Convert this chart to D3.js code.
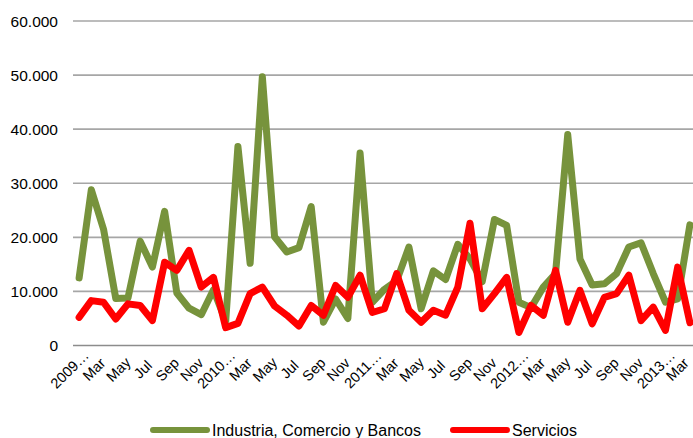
<!DOCTYPE html>
<html>
<head>
<meta charset="utf-8">
<script src="https://cdn.jsdelivr.net/npm/d3@7"></script>
<style>
  html, body { margin: 0; padding: 0; background: #fff; }
  svg { display: block; font-family: "Liberation Sans", Arial, sans-serif; }
</style>
</head>
<body>
<svg id="chart" width="693" height="438"></svg>
<script>
const months = [
  "2009…","Feb","Mar","Apr","May","Jun","Jul","Aug","Sep","Oct","Nov","Dec",
  "2010…","Feb","Mar","Apr","May","Jun","Jul","Aug","Sep","Oct","Nov","Dec",
  "2011…","Feb","Mar","Apr","May","Jun","Jul","Aug","Sep","Oct","Nov","Dec",
  "2012…","Feb","Mar","Apr","May","Jun","Jul","Aug","Sep","Oct","Nov","Dec",
  "2013…","Feb","Mar"
];
const industria = [
  12500, 28800, 21500, 8700, 8800, 19300, 14500, 24800, 9700, 6900, 5700, 10300,
  4500, 36800, 15200, 49700, 20100, 17300, 18100, 25700, 4300, 8600, 5000, 35600,
  8000, 10400, 12000, 18200, 6800, 13800, 12200, 18700, 16000, 11800, 23300, 22200,
  8000, 7000, 10800, 13300, 39000, 16000, 11200, 11400, 13300, 18200, 19000, 13300,
  8000, 8600, 22300
];
const servicios = [
  5200, 8300, 8000, 4900, 7700, 7400, 4600, 15400, 13900, 17600, 10800, 12600,
  3300, 4100, 9600, 10800, 7300, 5600, 3600, 7400, 5600, 11100, 8900, 13000,
  6100, 6800, 13300, 6500, 4300, 6500, 5600, 10800, 22600, 6800, 9600, 12600,
  2400, 7400, 5600, 13900, 4300, 10200, 4000, 8900, 9600, 13000, 4600, 7100,
  2800, 14500, 4200
];
const yTicks = [0, 10000, 20000, 30000, 40000, 50000, 60000];
const seriesNames = ["Industria, Comercio y Bancos", "Servicios"];
const seriesColors = ["#77933C", "#FF0000"];

(function () {
const W = 693;
const svg = d3.select("#chart");
const mLeft = 73, mRight = 696, mTop = 21, mBottom = 345.5;

const x = d3.scaleBand().domain(d3.range(months.length)).range([mLeft, mRight]);
const y = d3.scaleLinear().domain([0, 60000]).range([mBottom, mTop]);
const loc = d3.formatLocale({decimal: ",", thousands: ".", grouping: [3], currency: ["", ""]});
const fmt = loc.format(",.0f");

// gridlines
svg.append("g").selectAll("line").data(yTicks).join("line")
  .attr("x1", mLeft).attr("x2", W)
  .attr("y1", d => y(d)).attr("y2", d => y(d))
  .attr("stroke", d => d === 0 ? "#8c8c8c" : "#a6a6a6")
  .attr("stroke-width", 1.6);

// y labels
svg.append("g").selectAll("text").data(yTicks).join("text")
  .attr("x", 58).attr("y", d => y(d)).attr("dy", "0.36em")
  .attr("text-anchor", "end").attr("font-size", 15.5).attr("fill", "#000")
  .text(d => fmt(d));

// x labels (every second month)
const cx = i => x(i) + x.bandwidth() / 2;
const labels = svg.append("g").selectAll("text")
  .data(d3.range(months.length).filter(i => i % 2 === 0)).join("text")
  .attr("transform", i => `translate(${cx(i) - 6},${373}) rotate(-45)`)
  .attr("text-anchor", "middle").attr("font-size", 14.5).attr("fill", "#000")
  .text(i => months[i]);
// keep labels inside the picture
labels.each(function (i) {
  const r = this.getBoundingClientRect();
  if (r.right > W - 1) {
    const shift = r.right - (W - 1);
    d3.select(this).attr("transform", `translate(${cx(i) - 6 - shift},${373}) rotate(-45)`);
  }
});

// lines
const line = d3.line().x((d, i) => cx(i)).y(d => y(d));
[industria, servicios].forEach((vals, k) => {
  svg.append("path").datum(vals)
    .attr("d", line)
    .attr("fill", "none")
    .attr("stroke", seriesColors[k])
    .attr("stroke-width", 7)
    .attr("stroke-linejoin", "round")
    .attr("stroke-linecap", "round");
});

// legend
const legendX = [153, 453];
seriesNames.forEach((name, k) => {
  const g = svg.append("g");
  g.append("line").attr("x1", legendX[k]).attr("x2", legendX[k] + 54)
    .attr("y1", 430).attr("y2", 430)
    .attr("stroke", seriesColors[k]).attr("stroke-width", 6).attr("stroke-linecap", "round");
  g.append("text").attr("x", legendX[k] + 59).attr("y", 430).attr("dy", "0.36em")
    .attr("font-size", 16).attr("fill", "#000").text(name);
});
})();
</script>
</body>
</html>
